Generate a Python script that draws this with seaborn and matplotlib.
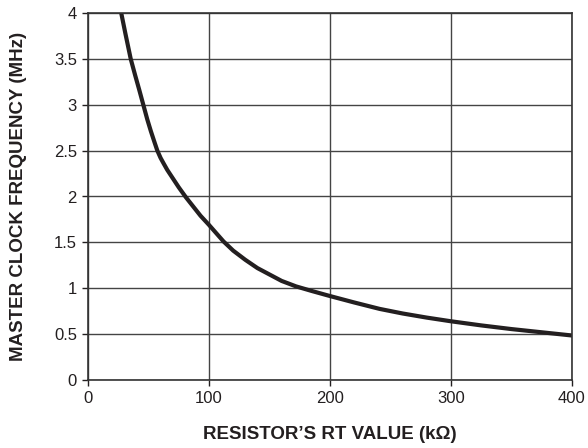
import matplotlib
matplotlib.use("Agg")
import matplotlib.pyplot as plt
import seaborn as sns
import pandas as pd

rt_kohm = [27, 31, 35.3, 39, 42.4, 45.7, 49, 52, 55, 57.3, 60, 62.5, 65.5, 70, 75, 81, 87, 93, 100,
           106, 112, 120, 130, 140, 150, 160, 172, 185, 200, 220, 241, 260, 280, 300, 325, 350, 375, 400]
freq_mhz = [4.03, 3.77, 3.5, 3.32, 3.16, 3.0, 2.84, 2.71, 2.59, 2.5, 2.42, 2.36, 2.29, 2.2, 2.1, 1.99, 1.89, 1.79, 1.69,
            1.6, 1.51, 1.41, 1.31, 1.22, 1.15, 1.08, 1.02, 0.97, 0.915, 0.845, 0.775, 0.725, 0.68, 0.64, 0.595, 0.555, 0.52, 0.485]
x_ticks = [0, 100, 200, 300, 400]
y_ticks = [0, 0.5, 1, 1.5, 2, 2.5, 3, 3.5, 4]
y_tick_labels = ["0", "0.5", "1", "1.5", "2", "2.5", "3", "3.5", "4"]

df = pd.DataFrame({"rt": rt_kohm, "f": freq_mhz})

sns.set_style("ticks")
plt.rcParams["font.family"] = ["Liberation Sans", "DejaVu Sans"]

fig = plt.figure(figsize=(5.88, 4.48), dpi=100)
ax = fig.add_axes([88/588, (448-380)/448, 484/588, 367/448])
sns.lineplot(data=df, x="rt", y="f", ax=ax, color="#231f20", linewidth=3.0)
for l in ax.lines:
    l.set_solid_joinstyle("round")
    l.set_solid_capstyle("round")

ax.set_xlim(0, 400)
ax.set_ylim(0, 4)
ax.set_xticks(x_ticks)
ax.set_xticklabels([str(t) for t in x_ticks])
ax.set_yticks(y_ticks)
ax.set_yticklabels(y_tick_labels)
ax.grid(True, color="#444444", linewidth=1.0)
ax.set_axisbelow(True)
for s in ax.spines.values():
    s.set_color("#333333")
    s.set_linewidth(1.2)
ax.tick_params(axis="both", labelsize=12, colors="#231f20", length=4, width=1, direction="out", pad=4)
ax.set_xlabel("RESISTOR\u2019S RT VALUE (k\u03a9)", fontsize=13.5, fontweight="bold", color="#231f20", labelpad=14)
ax.set_ylabel("MASTER CLOCK FREQUENCY (MHz)", fontsize=13.5, fontweight="bold", color="#231f20", labelpad=19)

fig.savefig("out.png", dpi=100)
